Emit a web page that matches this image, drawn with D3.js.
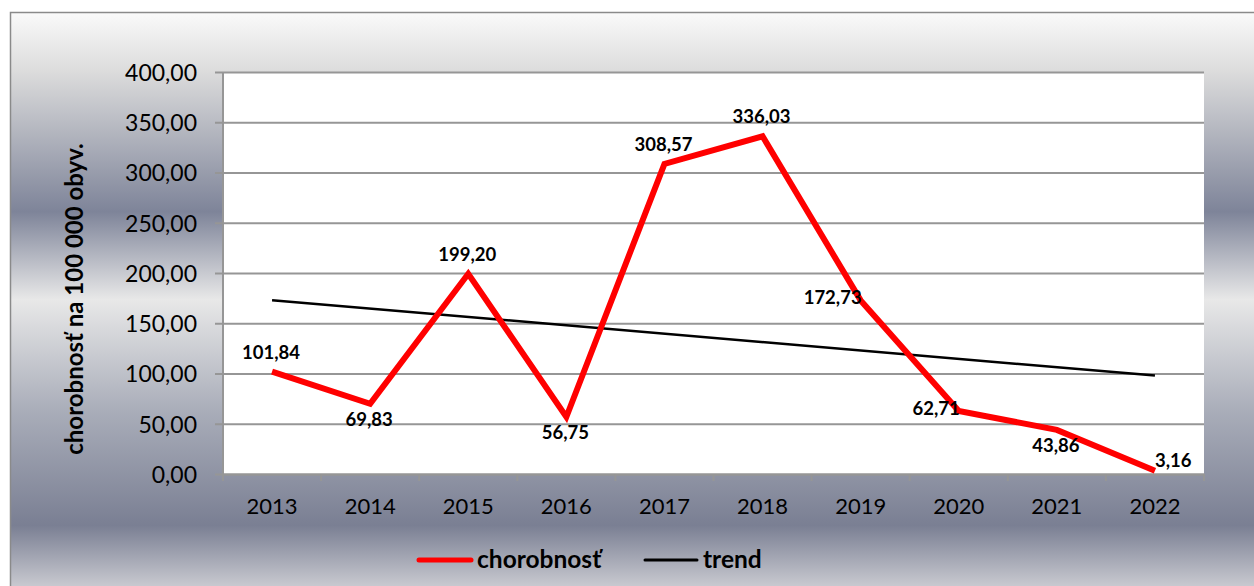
<!DOCTYPE html>
<html>
<head>
<meta charset="utf-8">
<script src="https://cdn.jsdelivr.net/npm/d3@7"></script>
<style>
  html, body { margin: 0; padding: 0; background: #ffffff; }
  svg { display: block; }
  text { font-family: Lato, "Open Sans", sans-serif; fill: #000; }
</style>
</head>
<body>
<div id="chart"></div>
<script>
// data
const years = ["2013", "2014", "2015", "2016", "2017", "2018", "2019", "2020", "2021", "2022"];
const incidence = [101.84, 69.83, 199.20, 56.75, 308.57, 336.03, 172.73, 62.71, 43.86, 3.16];
const trendYears = ["2013", "2022"];
const trendValues = [173.0, 97.9]; // linear trendline ends as drawn
const yTicks = [0, 50, 100, 150, 200, 250, 300, 350, 400];
const labelSide = ["above", "below", "above", "below", "above", "above", "left", "left", "below", "right"];
const seriesNames = ["chorobnosť", "trend"];

const width = 1254, height = 586;
const plot = { left: 223, right: 1204, top: 72, bottom: 474 };

const svg = d3.select("#chart").append("svg")
  .attr("width", width)
  .attr("height", height);

// background gradient of the chart box
const grad = svg.append("defs").append("linearGradient")
  .attr("id", "bg")
  .attr("x1", 0).attr("y1", 0).attr("x2", 0).attr("y2", 1);
[[0, "#fafafa"], [0.10, "#dcdcdc"], [0.34, "#7e8499"], [0.49, "#e8e8e8"],
 [0.68, "#a9adb9"], [0.875, "#7a7f93"], [1, "#d8d8dc"]].forEach(s => {
  grad.append("stop").attr("offset", s[0]).attr("stop-color", s[1]);
});

svg.append("rect")
  .attr("x", 10.5).attr("y", 12.5)
  .attr("width", width).attr("height", height)
  .attr("fill", "url(#bg)")
  .attr("stroke", "#8a8a8a")
  .attr("stroke-width", 1.5);

svg.append("rect")
  .attr("x", plot.left).attr("y", plot.top)
  .attr("width", plot.right - plot.left)
  .attr("height", plot.bottom - plot.top)
  .attr("fill", "#ffffff");

const x = d3.scaleBand().domain(years).range([plot.left, plot.right]);
const y = d3.scaleLinear().domain([0, 400]).range([plot.bottom, plot.top]);
const cx = d => x(d) + x.bandwidth() / 2;
const fmt = v => d3.format(".2f")(v).replace(".", ",");

// gridlines
const grid = svg.append("g")
  .attr("transform", `translate(${plot.left},0)`)
  .call(d3.axisLeft(y).tickValues(yTicks).tickSize(-(plot.right - plot.left)).tickFormat(""));
grid.select(".domain").remove();
grid.selectAll("line").attr("stroke", "#969696").attr("stroke-width", 2);

// y axis
const yAxis = svg.append("g")
  .attr("transform", `translate(${plot.left},0)`)
  .call(d3.axisLeft(y).tickValues(yTicks).tickSize(8).tickPadding(18).tickFormat(fmt));
yAxis.select(".domain").attr("stroke", "#969696").attr("stroke-width", 2)
  .attr("d", `M0,${plot.top}V${plot.bottom + 7}`);
yAxis.selectAll(".tick line").attr("stroke", "#969696").attr("stroke-width", 2);
yAxis.selectAll(".tick text")
  .attr("font-size", 23)
  .attr("font-family", "Lato, sans-serif")
  .attr("dy", "0.36em");

// x axis
const xAxis = svg.append("g")
  .attr("transform", `translate(0,${plot.bottom})`)
  .call(d3.axisBottom(x).tickSize(0).tickPadding(24));
xAxis.select(".domain").attr("stroke", "#969696").attr("stroke-width", 2);
xAxis.selectAll(".tick text")
  .attr("font-size", 22)
  .attr("font-family", "Lato, sans-serif");
xAxis.selectAll(".sep")
  .data(years.slice(1).concat("end"))
  .join("line")
  .attr("class", "sep")
  .attr("x1", d => d === "end" ? plot.right : x(d))
  .attr("x2", d => d === "end" ? plot.right : x(d))
  .attr("y1", 0).attr("y2", 7)
  .attr("stroke", "#969696").attr("stroke-width", 2);

// trend line
svg.append("path")
  .datum(trendYears.map((d, i) => [d, trendValues[i]]))
  .attr("fill", "none")
  .attr("stroke", "#000")
  .attr("stroke-width", 2.5)
  .attr("d", d3.line().x(d => cx(d[0])).y(d => y(d[1])));

// incidence line
const pts = years.map((d, i) => [d, incidence[i]]);
svg.append("path")
  .datum(pts)
  .attr("fill", "none")
  .attr("stroke", "#ff0000")
  .attr("stroke-width", 6)
  .attr("stroke-linejoin", "miter")
  .attr("d", d3.line().x(d => cx(d[0])).y(d => y(d[1])));

// data labels
svg.append("g").selectAll("text")
  .data(pts)
  .join("text")
  .attr("font-size", 18.5)
  .attr("font-weight", "bold")
  .attr("text-anchor", (d, i) => labelSide[i] === "left" ? "end" : labelSide[i] === "right" ? "start" : "middle")
  .attr("x", (d, i) => cx(d[0]) + (labelSide[i] === "left" ? 1 : labelSide[i] === "right" ? 0 : -1))
  .attr("y", (d, i) => {
    const py = y(d[1]);
    if (labelSide[i] === "above") return py - 13;
    if (labelSide[i] === "below") return py + 22;
    if (labelSide[i] === "right") return py - 4;
    return py + 4;
  })
  .text(d => fmt(d[1]));

// y axis title
svg.append("text")
  .attr("transform", "translate(83,299) rotate(-90)")
  .attr("text-anchor", "middle")
  .attr("font-size", 24)
  .attr("font-weight", "bold")
  .text("chorobnosť na 100 000 obyv.");

// legend
const legend = svg.append("g");
const legendItems = [
  { name: seriesNames[0], color: "#ff0000", w: 5, x0: 419, x1: 471, tx: 477 },
  { name: seriesNames[1], color: "#000000", w: 3, x0: 645, x1: 697, tx: 703 }
];
legendItems.forEach(it => {
  legend.append("line")
    .attr("x1", it.x0).attr("x2", it.x1)
    .attr("y1", 560).attr("y2", 560)
    .attr("stroke", it.color)
    .attr("stroke-width", it.w)
    .attr("stroke-linecap", "round");
  legend.append("text")
    .attr("x", it.tx).attr("y", 568)
    .attr("font-size", 24.5)
    .attr("font-weight", "bold")
    .text(it.name);
});
</script>
</body>
</html>
